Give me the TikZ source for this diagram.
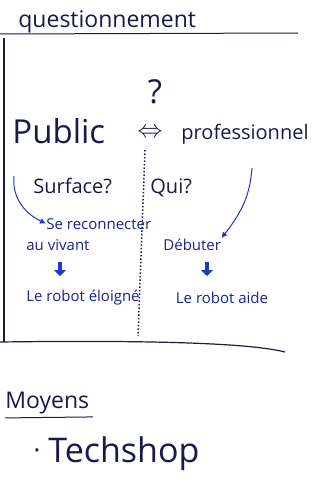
\documentclass[tikz,border=0pt]{standalone}
\usepackage{fontspec}
\setmainfont{Open Sans}
\usepackage{tikz}
\usetikzlibrary{arrows.meta}
\definecolor{ink}{rgb}{0.10, 0.10, 0.30}
\definecolor{pen}{rgb}{0.10, 0.14, 0.55}
\definecolor{arrowblue}{rgb}{0.12, 0.22, 0.78}

\tikzset{
	big/.style={ink, font=\fontsize{33}{33}\selectfont, inner sep=0pt},
	mid/.style={ink, font=\fontsize{20}{20}\selectfont, inner sep=0pt},
	small/.style={pen, font=\fontsize{15}{15}\selectfont, inner sep=0pt},
	link/.style={arrowblue, line width=1pt, -{Latex[length=6pt,width=6pt]}},
	fat/.style={arrowblue, line width=3.5pt, -{Triangle[length=6pt,width=12pt]}},
}

\begin{document}
\begin{tikzpicture}[x=1pt, y=-1pt, thick]
\useasboundingbox[fill=white] (0,0) rectangle (321,487);

% title
\node[ink, font=\fontsize{23}{23}\selectfont, inner sep=0pt, anchor=base west] (titre) at (18,28) {questionnement};
\draw[ink, line width=1pt] (0,34) -- (298,33);

% frame
\draw[ink, line width=1.2pt] (4,38) -- (4,342);
\draw[ink, line width=1.2pt] (0,342) .. controls (150,340) and (250,343) .. (285,352);

% question mark
\node[big] (quest) at (155,92) {?};

% public / professionnel
\node[big, anchor=base west] (public) at (12,143) {Public};
\node[ink, font=\fontsize{26}{26}\selectfont, inner sep=0pt] (equiv) at (150,133) {$\Leftrightarrow$};
\node[ink, font=\fontsize{20}{20}\selectfont, inner sep=0pt, anchor=base west] (prof) at (181,139) {professionnel};

% dotted split
\draw[ink, line width=1.5pt, dotted] (145,150) -- (138,336);

% questions
\node[mid, anchor=base west] (surface) at (33,193) {Surface?};
\node[mid, anchor=base west] (qui) at (150,193) {Qui?};

% left branch
\node[small, anchor=base west] (reco) at (46,229) {Se reconnecter};
\node[small, anchor=base west] (vivant) at (26,250) {au vivant};
\node[small] (eloigne) at (83,298) {Le robot éloigné};
\coordinate (gauche) at (14,176);
\draw[link] (gauche) .. controls (12,195) and (22,212) .. (reco.west);
\draw[fat] (60,262) coordinate (fg) -- (60,276) coordinate (fg2);

% right branch
\node[small, anchor=base west] (debut) at (163,250) {Débuter};
\node[small] (aide) at (222,298) {Le robot aide};
\coordinate (droite) at (252,168);
\draw[link] (droite) .. controls (250,195) and (242,212) .. (debut.north east);
\draw[fat] (207,262) coordinate (fd) -- (207,276) coordinate (fd2);

% moyens
\node[ink, font=\fontsize{23}{23}\selectfont, inner sep=0pt, anchor=base west] (moyens) at (5,408) {Moyens};
\draw[ink, line width=1pt] (moyens.south west) ++(0,4) -- ++(88,-1);
\node[ink, font=\fontsize{14}{14}\selectfont, inner sep=0pt] (puce) at (37,452) {•};
\node[ink, font=\fontsize{34}{34}\selectfont, inner sep=0pt, anchor=base west] (techshop) at (48,462) {Techshop};

\end{tikzpicture}
\end{document}
